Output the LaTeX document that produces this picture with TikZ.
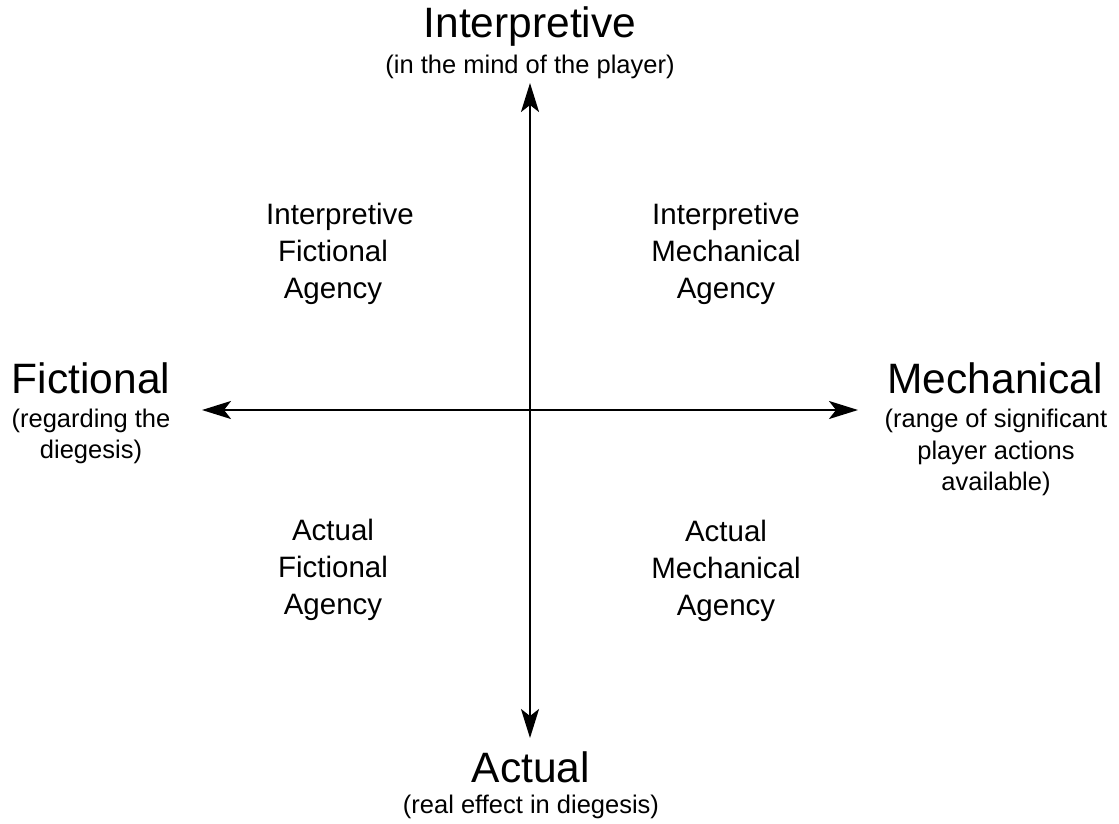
\documentclass[tikz,border=0pt]{standalone}
\usepackage{fontspec}
\setmainfont{Liberation Sans}
\usetikzlibrary{arrows.meta}
\begin{document}
\begin{tikzpicture}[x=1pt,y=-1pt,
  axis/.style={line width=2.3pt,-{Stealth[length=29pt,width=18pt,inset=7pt]}},
  title/.style={font=\fontsize{42.5}{48}\selectfont, inner sep=0pt},
  sub/.style={font=\fontsize{25.5}{31.5}\selectfont, align=center, inner sep=0pt},
  quad/.style={font=\fontsize{29.5}{37}\selectfont, align=center, inner sep=0pt}]
\useasboundingbox[fill=white] (0,0) rectangle (1119,823);
\coordinate (c) at (530,410);
\coordinate (top) at (530,83);
\coordinate (bot) at (530,738);
\coordinate (left) at (202,410);
\coordinate (right) at (858,410);
\draw[axis] (c) -- (top);
\draw[axis] (c) -- (bot);
\draw[axis] (c) -- (left);
\draw[axis] (c) -- (right);
\node[title] (tI) at (530,27) {Interpretive};
\node[sub] (sI) at (530,67) {(in the mind of the player)};
\node[title] (tA) at (531,767) {Actual};
\node[sub] (sA) at (531,807) {(real effect in diegesis)};
\node[title] (tF) at (91,378) {Fictional};
\node[sub] (sF) at (91,436.5) {(regarding the\\diegesis)};
\node[title] (tM) at (995,378) {Mechanical};
\node[sub] (sM) at (996,452.5) {(range of significant\\player actions\\available)};
\node[quad] (ifa) at (333,254) {\hspace*{14pt}Interpretive\\Fictional\\Agency};
\node[quad] (ima) at (726,254) {Interpretive\\Mechanical\\Agency};
\node[quad] (afa) at (333,570) {Actual\\Fictional\\Agency};
\node[quad] (ama) at (726,571) {Actual\\Mechanical\\Agency};
\end{tikzpicture}
\end{document}
